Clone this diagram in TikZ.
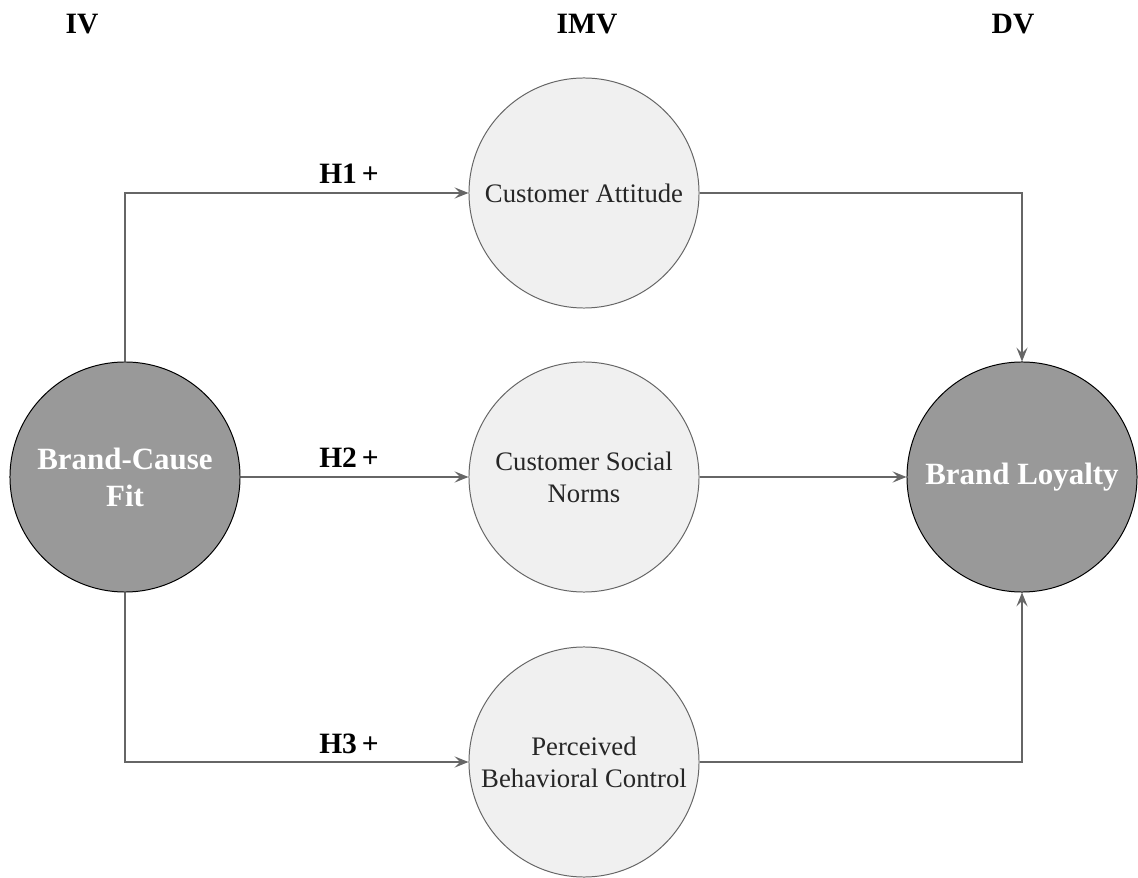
\documentclass[tikz,border=0pt]{standalone}
\usepackage{fontspec}
\setmainfont{Liberation Serif}
\usetikzlibrary{arrows.meta}

\tikzset{
  darkvar/.style={circle, draw=black, line width=0.7pt, fill=black!40, text=white,
    minimum size=5.75cm, inner sep=0pt, align=center,
    font=\fontsize{22}{26.4}\selectfont\bfseries},
  lightvar/.style={circle, draw=black!60, line width=0.7pt, fill=black!6, text=black!85,
    minimum size=5.75cm, inner sep=0pt, align=center,
    font=\fontsize{19}{22.8}\selectfont},
  link/.style={draw=black!60, line width=0.75pt, -{Stealth[length=10pt, width=8pt, inset=4pt]}},
  headlbl/.style={font=\fontsize{21}{25}\selectfont\bfseries},
  hyplbl/.style={font=\fontsize{21}{25}\selectfont\bfseries},
}

\begin{document}
\begin{tikzpicture}[x=0.025cm, y=-0.025cm]
	\useasboundingbox (0,0) rectangle (1138,878);
	% column headings
	\node[headlbl] (iv) at (82,24) {IV};
	\node[headlbl] (imv) at (587,24) {IMV};
	\node[headlbl] (dv) at (1013,24) {DV};
	% variables
	\node[darkvar] (fit) at (125,477) {Brand-Cause\\Fit};
	\node[lightvar] (attitude) at (584,193) {Customer Attitude};
	\node[lightvar] (norms) at (584,477) {Customer Social\\Norms};
	\node[lightvar] (control) at (584,762) {Perceived\\Behavioral Control};
	\node[darkvar] (loyalty) at (1022,477) {Brand Loyalty};
	% paths
	\draw[link] (fit.north) |- (attitude.west);
	\draw[link] (fit.east) -- (norms.west);
	\draw[link] (fit.south) |- (control.west);
	\draw[link] (attitude.east) -| (loyalty.north);
	\draw[link] (norms.east) -- (loyalty.west);
	\draw[link] (control.east) -| (loyalty.south);
	% hypotheses
	\node[hyplbl] (h1) at (349,174) {H1\,+};
	\node[hyplbl] (h2) at (349,458) {H2\,+};
	\node[hyplbl] (h3) at (349,744) {H3\,+};
\end{tikzpicture}
\end{document}
